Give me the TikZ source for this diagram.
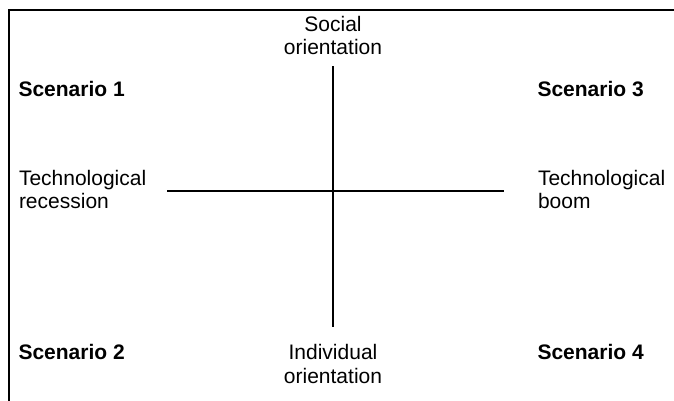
\documentclass[tikz,border=0pt]{standalone}
\usepackage{fontspec}
\setmainfont{Liberation Sans}
\begin{document}
\begin{tikzpicture}[x=1pt,y=-1pt,
  txt/.style={inner sep=0pt,outer sep=0pt,font=\fontsize{21}{23.5}\selectfont},
  head/.style={txt,font=\fontsize{21}{23.5}\selectfont\bfseries},
  axis/.style={line width=2pt},
  frame/.style={line width=2.4pt}]
\useasboundingbox (0,0) rectangle (674,400);

% open frame along the left and top edges
\coordinate (fbl) at (8.7,402);
\coordinate (ftl) at (8.7,10);
\coordinate (ftr) at (676,10);
\draw[frame] (fbl) -- (ftl) -- (ftr);

% axis end points
\coordinate (vtop) at (333,66);
\coordinate (vbot) at (333,327);
\coordinate (hleft) at (167,190.5);
\coordinate (hright) at (504,190.5);
\draw[axis] (vtop) -- (vbot);
\draw[axis] (hleft) -- (hright);

% axis labels
\node[txt,anchor=base] (social1) at (333,31) {Social};
\node[txt,anchor=base] (social2) at (333,54) {orientation};
\node[txt,anchor=base] (indiv1) at (333,359) {Individual};
\node[txt,anchor=base] (indiv2) at (333,383) {orientation};
\node[txt,anchor=base west] (rec1) at (19,185) {Technological};
\node[txt,anchor=base west] (rec2) at (19,208) {recession};
\node[txt,anchor=base west] (boom1) at (538,185) {Technological};
\node[txt,anchor=base west] (boom2) at (538,208) {boom};

% scenario headings
\node[head,anchor=base west] (s1) at (18.5,96) {Scenario 1};
\node[head,anchor=base west] (s3) at (537.5,96) {Scenario 3};
\node[head,anchor=base west] (s2) at (18.5,359) {Scenario 2};
\node[head,anchor=base west] (s4) at (537.5,359) {Scenario 4};
\end{tikzpicture}
\end{document}
